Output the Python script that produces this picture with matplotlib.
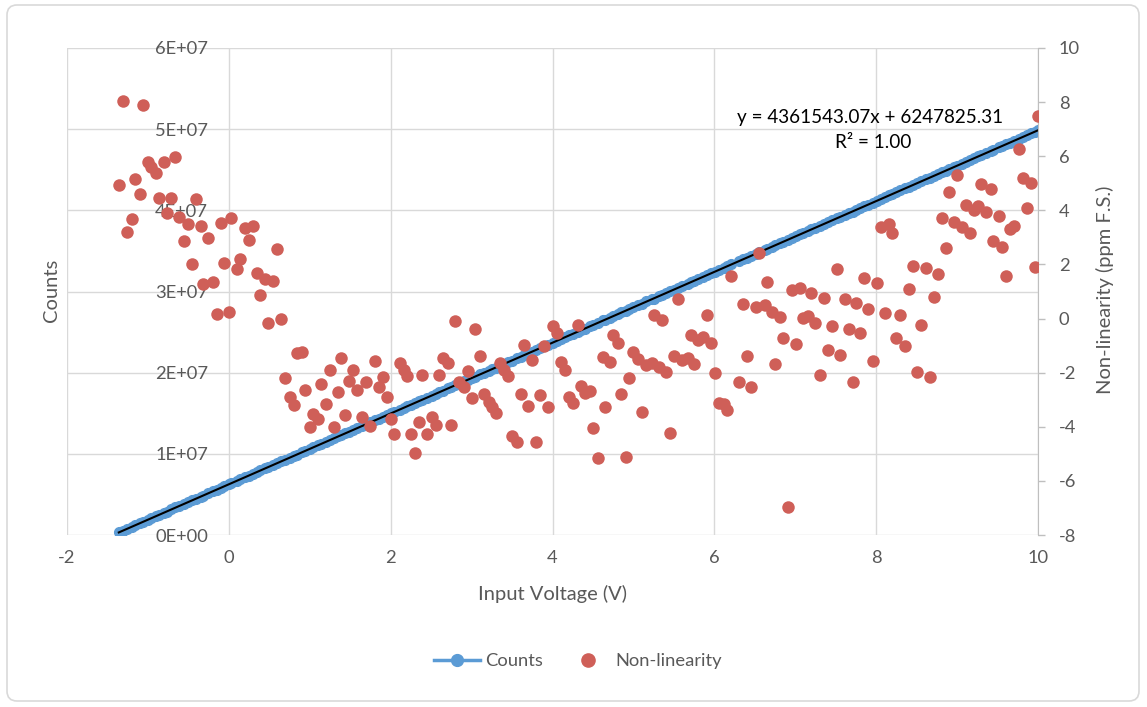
import numpy as np
import matplotlib
matplotlib.use('Agg')
import matplotlib.pyplot as plt
from matplotlib.lines import Line2D
from matplotlib.patches import FancyBboxPatch
from matplotlib.transforms import IdentityTransform
from matplotlib.ticker import FuncFormatter

plt.rcParams['font.family'] = ['Lato', 'DejaVu Sans']
plt.rcParams['axes.unicode_minus'] = False

# Input voltage sweep (V)
voltage = [-1.36, -1.31, -1.26, -1.20, -1.16, -1.10, -1.06, -1.00, -0.96, -0.90,
           -0.86, -0.80, -0.77, -0.71, -0.66, -0.61, -0.55, -0.51, -0.45, -0.41,
           -0.35, -0.32, -0.26, -0.19, -0.15, -0.10, -0.06, 0.00, 0.03, 0.10,
           0.14, 0.20, 0.25, 0.30, 0.35, 0.39, 0.45, 0.49, 0.55, 0.59,
           0.65, 0.69, 0.75, 0.80, 0.84, 0.90, 0.94, 1.00, 1.04, 1.10,
           1.14, 1.20, 1.25, 1.30, 1.35, 1.39, 1.44, 1.49, 1.54, 1.58,
           1.65, 1.70, 1.75, 1.81, 1.85, 1.90, 1.95, 2.00, 2.04, 2.11,
           2.16, 2.20, 2.25, 2.30, 2.35, 2.39, 2.45, 2.51, 2.56, 2.60,
           2.65, 2.71, 2.74, 2.80, 2.85, 2.91, 2.95, 3.01, 3.04, 3.11,
           3.15, 3.21, 3.25, 3.30, 3.35, 3.40, 3.45, 3.50, 3.56, 3.61,
           3.65, 3.70, 3.75, 3.80, 3.85, 3.90, 3.95, 4.00, 4.05, 4.10,
           4.15, 4.21, 4.25, 4.31, 4.35, 4.40, 4.46, 4.50, 4.56, 4.63,
           4.65, 4.71, 4.75, 4.81, 4.85, 4.91, 4.95, 5.00, 5.06, 5.10,
           5.16, 5.23, 5.25, 5.31, 5.35, 5.40, 5.45, 5.50, 5.55, 5.60,
           5.67, 5.71, 5.75, 5.80, 5.86, 5.91, 5.96, 6.01, 6.06, 6.12,
           6.16, 6.21, 6.30, 6.36, 6.40, 6.45, 6.51, 6.55, 6.62, 6.65,
           6.71, 6.75, 6.81, 6.85, 6.91, 6.96, 7.01, 7.06, 7.10, 7.16,
           7.20, 7.25, 7.31, 7.36, 7.41, 7.46, 7.51, 7.55, 7.61, 7.66,
           7.71, 7.75, 7.80, 7.85, 7.90, 7.96, 8.01, 8.06, 8.11, 8.16,
           8.20, 8.25, 8.30, 8.36, 8.41, 8.46, 8.51, 8.55, 8.61, 8.66,
           8.71, 8.76, 8.81, 8.86, 8.90, 8.96, 9.00, 9.06, 9.11, 9.16,
           9.21, 9.26, 9.30, 9.36, 9.42, 9.45, 9.52, 9.56, 9.61, 9.65,
           9.70, 9.76, 9.81, 9.87, 9.91, 9.96, 10.00]

# ADC counts, in units of 1E+07
counts_1e7 = [0.033, 0.052, 0.077, 0.100, 0.120, 0.145, 0.163, 0.189, 0.208, 0.231,
              0.249, 0.275, 0.289, 0.317, 0.339, 0.360, 0.384, 0.404, 0.427, 0.447,
              0.472, 0.486, 0.513, 0.540, 0.558, 0.580, 0.599, 0.626, 0.639, 0.666,
              0.684, 0.711, 0.732, 0.754, 0.777, 0.796, 0.823, 0.840, 0.864, 0.882,
              0.909, 0.927, 0.950, 0.972, 0.990, 1.017, 1.034, 1.061, 1.079, 1.106,
              1.121, 1.146, 1.169, 1.191, 1.214, 1.232, 1.254, 1.273, 1.295, 1.313,
              1.346, 1.367, 1.389, 1.412, 1.430, 1.454, 1.475, 1.497, 1.515, 1.543,
              1.565, 1.586, 1.606, 1.628, 1.651, 1.669, 1.694, 1.718, 1.741, 1.759,
              1.780, 1.807, 1.822, 1.845, 1.867, 1.894, 1.910, 1.936, 1.951, 1.982,
              1.997, 2.023, 2.041, 2.063, 2.086, 2.109, 2.130, 2.149, 2.176, 2.199,
              2.217, 2.239, 2.260, 2.284, 2.305, 2.325, 2.346, 2.370, 2.392, 2.415,
              2.436, 2.459, 2.478, 2.502, 2.523, 2.544, 2.571, 2.589, 2.613, 2.643,
              2.652, 2.679, 2.697, 2.724, 2.742, 2.765, 2.783, 2.805, 2.831, 2.850,
              2.877, 2.904, 2.912, 2.939, 2.958, 2.981, 3.002, 3.024, 3.047, 3.066,
              3.096, 3.114, 3.134, 3.155, 3.182, 3.200, 3.223, 3.245, 3.268, 3.294,
              3.311, 3.335, 3.371, 3.397, 3.416, 3.439, 3.465, 3.482, 3.511, 3.524,
              3.550, 3.568, 3.595, 3.613, 3.637, 3.659, 3.680, 3.703, 3.721, 3.748,
              3.766, 3.788, 3.811, 3.834, 3.856, 3.877, 3.901, 3.919, 3.942, 3.964,
              3.985, 4.004, 4.027, 4.048, 4.071, 4.095, 4.117, 4.138, 4.162, 4.185,
              4.203, 4.224, 4.246, 4.269, 4.292, 4.314, 4.338, 4.356, 4.381, 4.400,
              4.422, 4.443, 4.467, 4.489, 4.508, 4.534, 4.551, 4.575, 4.596, 4.620,
              4.641, 4.664, 4.683, 4.706, 4.731, 4.746, 4.778, 4.796, 4.817, 4.835,
              4.857, 4.880, 4.904, 4.929, 4.947, 4.970, 4.988]

# Non-linearity (ppm F.S.)
nonlin = [4.94, 8.05, 3.19, 3.68, 5.15, 4.62, 7.89, 5.78, 5.61, 5.39,
          4.47, 5.78, 3.89, 4.47, 5.98, 3.77, 2.88, 3.50, 2.02, 4.41,
          3.43, 1.28, 2.97, 1.36, 0.16, 3.54, 2.04, 0.23, 3.71, 1.82,
          2.20, 3.35, 2.90, 3.42, 1.70, 0.87, 1.45, -0.15, 1.39, 2.57,
          -0.03, -2.21, -2.89, -3.19, -1.28, -1.22, -2.64, -3.99, -3.54, -3.71,
          -2.43, -3.16, -1.90, -3.99, -2.72, -1.44, -3.56, -2.31, -1.90, -2.64,
          -3.63, -2.33, -3.97, -1.57, -2.54, -2.15, -2.91, -3.71, -4.26, -1.63,
          -1.90, -2.12, -4.26, -4.96, -3.82, -2.08, -4.26, -3.63, -3.93, -2.08,
          -1.47, -1.65, -3.93, -0.08, -2.33, -2.52, -1.93, -2.95, -0.38, -1.38,
          -2.79, -3.07, -3.28, -3.50, -1.63, -1.90, -2.12, -4.34, -4.55, -2.80,
          -0.98, -3.23, -1.53, -4.55, -2.82, -1.01, -3.26, -0.27, -0.54, -1.59,
          -1.90, -2.89, -3.13, -0.24, -2.49, -2.74, -2.66, -4.05, -5.14, -1.41,
          -3.26, -1.59, -0.61, -0.91, -2.79, -5.10, -2.21, -1.22, -1.50, -3.44,
          -1.71, -1.63, 0.13, -1.78, -0.05, -1.96, -4.22, -1.38, 0.71, -1.53,
          -1.47, -0.61, -1.68, -0.79, -0.69, 0.13, -0.91, -2.02, -3.13, -3.16,
          -3.38, 1.57, -2.33, 0.54, -1.38, -2.52, 0.44, 2.44, 0.50, 1.36,
          0.25, -1.68, 0.05, -0.73, -6.95, 1.06, -0.94, 1.14, 0.01, 0.10,
          0.96, -0.17, -2.08, 0.77, -1.16, -0.27, 1.82, -1.35, 0.71, -0.40,
          -2.33, 0.57, -0.54, 1.49, 0.34, -1.57, 1.30, 3.37, 0.22, 3.50,
          3.17, -0.73, 0.13, -1.00, 1.08, 1.94, -1.96, -0.24, 1.86, -2.17,
          0.81, 1.64, 3.73, 2.60, 4.69, 3.58, 5.31, 3.37, 4.20, 3.17,
          4.01, 4.16, 4.97, 3.95, 4.79, 2.88, 3.79, 2.66, 1.57, 3.30,
          3.42, 6.26, 5.18, 4.08, 5.02, 1.90, 7.49]

x_ticks = [-2, 0, 2, 4, 6, 8, 10]
count_ticks = [0, 1e7, 2e7, 3e7, 4e7, 5e7, 6e7]
nonlin_ticks = [-8, -6, -4, -2, 0, 2, 4, 6, 8, 10]

equation_text = 'y = 4361543.07x + 6247825.31'
r2_text = 'R² = 1.00'

BLUE = '#5B9BD5'
RED = '#CF5F58'
GRID = '#D9D9D9'
TXT = '#595959'
FS_TICK = 13.2
FS_TITLE = 14.5
FS_LEG = 13.2
FS_EQ = 13.6

W, H = 1147, 707
fig = plt.figure(figsize=(W / 100, H / 100), dpi=100)
ax = fig.add_axes([67 / W, 1 - 535 / H, (1038 - 67) / W, (535 - 48) / H])
ax2 = ax.twinx()

counts = np.array(counts_1e7) * 1e7

# primary axis: counts + linear trendline
ax.plot(voltage, counts, color=BLUE, lw=2.5, marker='o', markersize=7,
        markerfacecolor=BLUE, markeredgecolor=BLUE, zorder=3)
coef = np.polyfit(voltage, counts, 1)
xfit = np.array([min(voltage), max(voltage)])
ax.plot(xfit, np.polyval(coef, xfit), color='black', lw=1.5, zorder=4)

ax.set_xlim(-2, 10)
ax.set_ylim(0, 6e7)
ax.set_xticks(x_ticks)
ax.set_yticks(count_ticks)
ax.yaxis.set_major_formatter(FuncFormatter(lambda v, p: format(v, '.0E')))
ax.grid(True, color=GRID, lw=1)
ax.set_axisbelow(True)
for s in ['top', 'right', 'bottom']:
    ax.spines[s].set_visible(False)
ax.spines['left'].set_position(('data', 0))
ax.spines['left'].set_color('none')
ax.tick_params(axis='y', length=0, pad=15, labelsize=FS_TICK, labelcolor=TXT)
ax.tick_params(axis='x', length=0, pad=11, labelsize=FS_TICK, labelcolor=TXT)

# secondary axis: non-linearity
ax2.scatter(voltage, nonlin, s=81, color=RED, linewidths=0, zorder=5)
ax2.set_ylim(-8, 10)
ax2.set_yticks(nonlin_ticks)
for s in ['top', 'left', 'bottom']:
    ax2.spines[s].set_visible(False)
ax2.spines['right'].set_color('#BFBFBF')
ax2.tick_params(axis='y', length=5, width=1, color='#BFBFBF', pad=10,
                labelsize=FS_TICK, labelcolor=TXT)

# axis titles
fig.text(52 / W, 1 - 290 / H, 'Counts', rotation=90, ha='center', va='center',
         fontsize=FS_TITLE, color=TXT)
fig.text(1105 / W, 1 - 290 / H, 'Non-linearity (ppm F.S.)', rotation=90,
         ha='center', va='center', fontsize=FS_TITLE, color=TXT)
fig.text(552 / W, 1 - 594 / H, 'Input Voltage (V)', ha='center', va='center',
         fontsize=FS_TITLE, color=TXT)

# trendline label
fig.text(870 / W, 1 - 118 / H, equation_text, ha='center', va='center',
         fontsize=FS_EQ, color='black')
fig.text(873 / W, 1 - 143 / H, r2_text, ha='center', va='center',
         fontsize=FS_EQ, color='black')

handles = [Line2D([], [], color=BLUE, lw=2.5, marker='o', markersize=8.5),
           Line2D([], [], color=RED, lw=0, marker='o', markersize=9.5)]
fig.legend(handles, ['Counts', 'Non-linearity'], loc='center',
           bbox_to_anchor=(578 / W, 1 - 661 / H), ncol=2, frameon=False,
           fontsize=FS_LEG, labelcolor=TXT, handlelength=2.5, handletextpad=0.25,
           columnspacing=1.2)

# chart border
fig.patches.append(FancyBboxPatch((7, 6), 1132, 696,
                                  boxstyle='round,pad=0,rounding_size=10',
                                  transform=IdentityTransform(), fill=False,
                                  ec=GRID, lw=1.2))

plt.savefig('out.png', dpi=100)
plt.close()
